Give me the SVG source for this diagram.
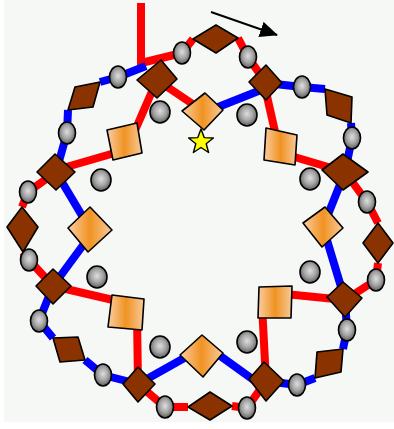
<svg xmlns="http://www.w3.org/2000/svg" width="394" height="429" viewBox="0 0 394 429">
<defs>
<linearGradient id="og" x1="0" y1="0" x2="1" y2="0">
<stop offset="0" stop-color="#FBCDA2"/>
<stop offset="0.5" stop-color="#F09322"/>
<stop offset="1" stop-color="#F9C99C"/>
</linearGradient>
<radialGradient id="gg" cx="0.5" cy="0.45" r="0.55">
<stop offset="0" stop-color="#DEDEDE"/>
<stop offset="0.55" stop-color="#A4A4A4"/>
<stop offset="1" stop-color="#5C5C5C"/>
</radialGradient>
<marker id="ahead" viewBox="0 0 18 16" refX="17" refY="8" markerWidth="18" markerHeight="16" orient="auto" markerUnits="userSpaceOnUse">
<path d="M0,0 L18,8 L0,16 z" fill="#000"/>
</marker>
</defs>
<style>
.r{stroke:#FF0000;stroke-width:8;fill:none;stroke-linejoin:round}
.b{stroke:#0000FF;stroke-width:8;fill:none;stroke-linejoin:round}
.br{fill:#8A3200;stroke:#000;stroke-width:1.6;stroke-linejoin:round}
.or{fill:url(#og);stroke:#000;stroke-width:1.6;stroke-linejoin:round}
.gy{fill:url(#gg);stroke:#000;stroke-width:1.6}
</style>
<rect x="0" y="0" width="394" height="429" fill="#FFFFFF"/>
<rect x="4" y="0" width="390" height="422" fill="#F6F8F6"/>

<g id="connectors">
<line class="r" x1="141" y1="3" x2="141" y2="66"/>
<polyline class="r" points="141,63 182,53 193,39"/>
<polyline class="r" points="238,38 248,57 266,83"/>
<polyline class="b" points="266,83 302,87 325,89"/>
<polyline class="b" points="351,123 352,138 345,172"/>
<polyline class="r" points="345,172 367,202 378,223"/>
<polyline class="r" points="378,263 376,280 345,300"/>
<polyline class="b" points="345,300 347,330 343,349"/>
<polyline class="b" points="315,378 297,385 266,381"/>
<polyline class="r" points="266,381 247,408 232,406"/>
<polyline class="r" points="188,407 165,407 138,384"/>
<polyline class="b" points="138,384 103,375 85,360"/>
<polyline class="b" points="53,338 39,321 53,286"/>
<polyline class="r" points="53,286 29,260 23,252"/>
<polyline class="r" points="22,207 28,192 56,172"/>
<polyline class="b" points="56,172 67,133 68,110"/>
<polyline class="b" points="100,82 118,77 146,66"/>
<line class="r" x1="157" y1="80" x2="133" y2="135"/>
<line class="r" x1="157" y1="80" x2="203" y2="111"/>
<line class="b" x1="203" y1="113" x2="266" y2="88"/>
<line class="r" x1="264" y1="83" x2="278" y2="145"/>
<line class="r" x1="281" y1="153" x2="345" y2="172"/>
<line class="b" x1="345" y1="172" x2="323" y2="227"/>
<line class="b" x1="323" y1="227" x2="345" y2="300"/>
<line class="r" x1="275" y1="293" x2="345" y2="300"/>
<line class="r" x1="262" y1="305" x2="266" y2="381"/>
<line class="b" x1="212" y1="350" x2="262" y2="386"/>
<line class="b" x1="138" y1="384" x2="195" y2="352"/>
<line class="r" x1="137" y1="315" x2="138" y2="384"/>
<line class="r" x1="53" y1="286" x2="126" y2="303"/>
<line class="b" x1="92" y1="233" x2="53" y2="286"/>
<line class="b" x1="56" y1="172" x2="90" y2="229"/>
<line class="r" x1="56" y1="170" x2="125" y2="150"/>
<line x1="211" y1="12" x2="277" y2="35" stroke="#000" stroke-width="2" marker-end="url(#ahead)"/>
</g>

<g id="outer-rhombi">
<polygon id="r1" class="br" points="193,39 216,25 238,38 216,53"/>
<polygon id="r2" class="br" points="325,89 352,97 351,123 327,115"/>
<polygon id="r3" class="br" points="378,223 393,243 378,263 363,243"/>
<polygon id="r4" class="br" points="317,352 343,349 341,372 315,378"/>
<polygon id="r5" class="br" points="188,407 210,392 232,406 210,420"/>
<polygon id="r6" class="br" points="53,338 78,337 85,360 60,362"/>
<polygon id="r7" class="br" points="22,207 38,227 23,252 7,227"/>
<polygon id="r8" class="br" points="75,87 100,82 93,107 68,110"/>
</g>

<g id="junctions">
<polygon id="j1" class="br" points="161,60 177,79 157,98 137,80"/>
<polygon id="j2" class="br" points="266,65 282,83 266,100 249,82"/>
<polygon id="j3" class="br" points="343,154 368,172 343,190 322,170"/>
<polygon id="j4" class="br" points="343,282 362,298 345,317 327,297"/>
<polygon id="j5" class="br" points="264,362 284,381 266,401 249,379"/>
<polygon id="j6" class="br" points="138,367 155,384 138,402 123,384"/>
<polygon id="j7" class="br" points="53,269 71,286 53,304 36,286"/>
<polygon id="j8" class="br" points="55,154 75,172 56,190 37,172"/>
</g>

<g id="inner-squares">
<polygon id="o1" class="or" points="205,93 223,110 204,130 182,111"/>
<polygon id="o2" class="or" points="266,128 297,135 295,165 264,160"/>
<polygon id="o3" class="or" points="325,207 343,228 322,247 303,223"/>
<polygon id="o4" class="or" points="259,287 292,286 291,318 258,318"/>
<polygon id="o5" class="or" points="202,335 223,353 203,377 180,355"/>
<polygon id="o6" class="or" points="112,295 144,299 142,330 108,327"/>
<polygon id="o7" class="or" points="90,207 112,230 88,252 68,228"/>
<polygon id="o8" class="or" points="107,130 137,123 142,153 113,160"/>
</g>

<g id="outer-beads">
<ellipse class="gy" cx="182" cy="53" rx="8.5" ry="11"/>
<ellipse class="gy" cx="248" cy="57" rx="8.5" ry="11"/>
<ellipse class="gy" cx="302" cy="87" rx="8.5" ry="11"/>
<ellipse class="gy" cx="352" cy="138" rx="8.5" ry="11"/>
<ellipse class="gy" cx="367" cy="202" rx="8.5" ry="11"/>
<ellipse class="gy" cx="376" cy="280" rx="8.5" ry="11"/>
<ellipse class="gy" cx="347" cy="330" rx="8.5" ry="11"/>
<ellipse class="gy" cx="297" cy="385" rx="8.5" ry="11"/>
<ellipse class="gy" cx="247" cy="408" rx="8.5" ry="11"/>
<ellipse class="gy" cx="165" cy="407" rx="8.5" ry="11"/>
<ellipse class="gy" cx="103" cy="375" rx="8.5" ry="11"/>
<ellipse class="gy" cx="39" cy="321" rx="8.5" ry="11"/>
<ellipse class="gy" cx="29" cy="260" rx="8.5" ry="11"/>
<ellipse class="gy" cx="28" cy="192" rx="8.5" ry="11"/>
<ellipse class="gy" cx="67" cy="133" rx="8.5" ry="11"/>
<ellipse class="gy" cx="118" cy="77" rx="8.5" ry="11"/>
</g>

<g id="inner-beads">
<ellipse class="gy" cx="160" cy="112" rx="10" ry="11"/>
<ellipse class="gy" cx="247" cy="115" rx="10" ry="11"/>
<ellipse class="gy" cx="310" cy="179" rx="10" ry="11"/>
<ellipse class="gy" cx="310" cy="272" rx="10" ry="11"/>
<ellipse class="gy" cx="247" cy="342" rx="10" ry="11"/>
<ellipse class="gy" cx="160" cy="347" rx="10" ry="11"/>
<ellipse class="gy" cx="97" cy="277" rx="10" ry="11"/>
<ellipse class="gy" cx="101" cy="180" rx="10" ry="11"/>
</g>

<g id="star">
<polygon points="201,129 204.2,137.6 213.4,138 206.2,143.7 208.6,152.5 201,147.5 193.4,152.5 195.8,143.7 188.6,138 197.8,137.6" fill="#FFFF00" stroke="#000" stroke-width="1.4" stroke-linejoin="round"/>
</g>
</svg>
